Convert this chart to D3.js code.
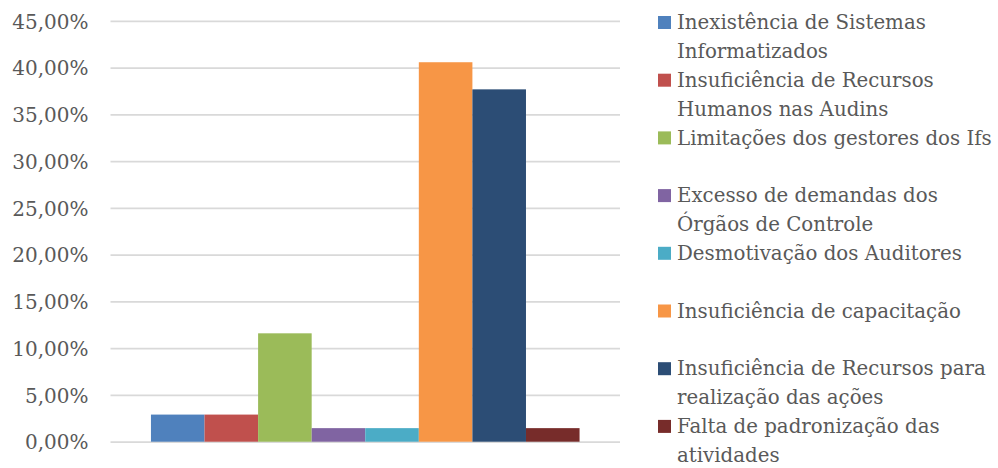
<!DOCTYPE html>
<html>
<head>
<meta charset="utf-8">
<script src="https://cdn.jsdelivr.net/npm/d3@7"></script>
<style>
  html, body { margin: 0; padding: 0; background: #fff; }
  svg { display: block; }
  text { font-family: "DejaVu Serif", "Liberation Serif", serif; fill: #595959; }
</style>
</head>
<body>
<svg id="chart" width="998" height="468"></svg>
<script>
// Causes reported, in legend order, with the share of answers for each
const categories = [
  ["Inexistência de Sistemas", "Informatizados"],
  ["Insuficiência de Recursos", "Humanos nas Audins"],
  ["Limitações dos gestores dos Ifs", ""],
  ["Excesso de demandas dos", "Órgãos de Controle"],
  ["Desmotivação dos Auditores", ""],
  ["Insuficiência de capacitação", ""],
  ["Insuficiência de Recursos para", "realização das ações"],
  ["Falta de padronização das", "atividades"]
];
const values = [0.0290, 0.0290, 0.1159, 0.0145, 0.0145, 0.4058, 0.3768, 0.0145];
const colors = ["#4f81bd", "#c0504d", "#9bbb59", "#8064a2", "#4bacc6", "#f79646", "#2c4d75", "#772c2a"];
const yTicks = [0, 0.05, 0.10, 0.15, 0.20, 0.25, 0.30, 0.35, 0.40, 0.45];

const svg = d3.select("#chart");
const plot = { left: 110.5, right: 620, top: 20.9, bottom: 441.7 };

const y = d3.scaleLinear().domain([0, 0.45]).range([plot.bottom, plot.top]);
const x = d3.scaleBand()
  .domain(d3.range(values.length))
  .range([plot.left, plot.right])
  .paddingInner(0)
  .paddingOuter(0.755);

const fmt = v => d3.format(".2f")(v * 100).replace(".", ",") + "%";

// Horizontal gridlines with percentage labels
const yAxis = d3.axisLeft(y)
  .tickValues(yTicks)
  .tickSize(-(plot.right - plot.left))
  .tickPadding(22)
  .tickFormat(fmt);

const gAxis = svg.append("g")
  .attr("transform", `translate(${plot.left},0)`)
  .call(yAxis);
gAxis.select(".domain").remove();
gAxis.selectAll(".tick line").attr("stroke", "#d9d9d9").attr("stroke-width", 1.8);
gAxis.selectAll(".tick text")
  .attr("fill", "#595959")
  .style("font-size", "20px")
  .attr("dy", "0.36em");

// Bars
svg.append("g").selectAll("rect")
  .data(values)
  .join("rect")
  .attr("x", (d, i) => x(i))
  .attr("width", x.bandwidth())
  .attr("y", d => y(d))
  .attr("height", d => y(0) - y(d))
  .attr("fill", (d, i) => colors[i]);

// Legend: two text lines per entry
const legendTop = 22.5, lineStep = 28.85, entryStep = 2 * lineStep;
const legend = svg.append("g");
const entry = legend.selectAll("g")
  .data(categories)
  .join("g")
  .attr("transform", (d, i) => `translate(658, ${legendTop + i * entryStep})`);
entry.append("rect")
  .attr("x", 0).attr("y", -6.5)
  .attr("width", 13).attr("height", 13)
  .attr("fill", (d, i) => colors[i]);
entry.each(function (lines) {
  const g = d3.select(this);
  lines.forEach((t, k) => {
    if (!t) return;
    g.append("text")
      .attr("x", 19)
      .attr("y", k * lineStep)
      .attr("dy", "0.34em")
      .style("font-size", "19.8px")
      .text(t);
  });
});
</script>
</body>
</html>
